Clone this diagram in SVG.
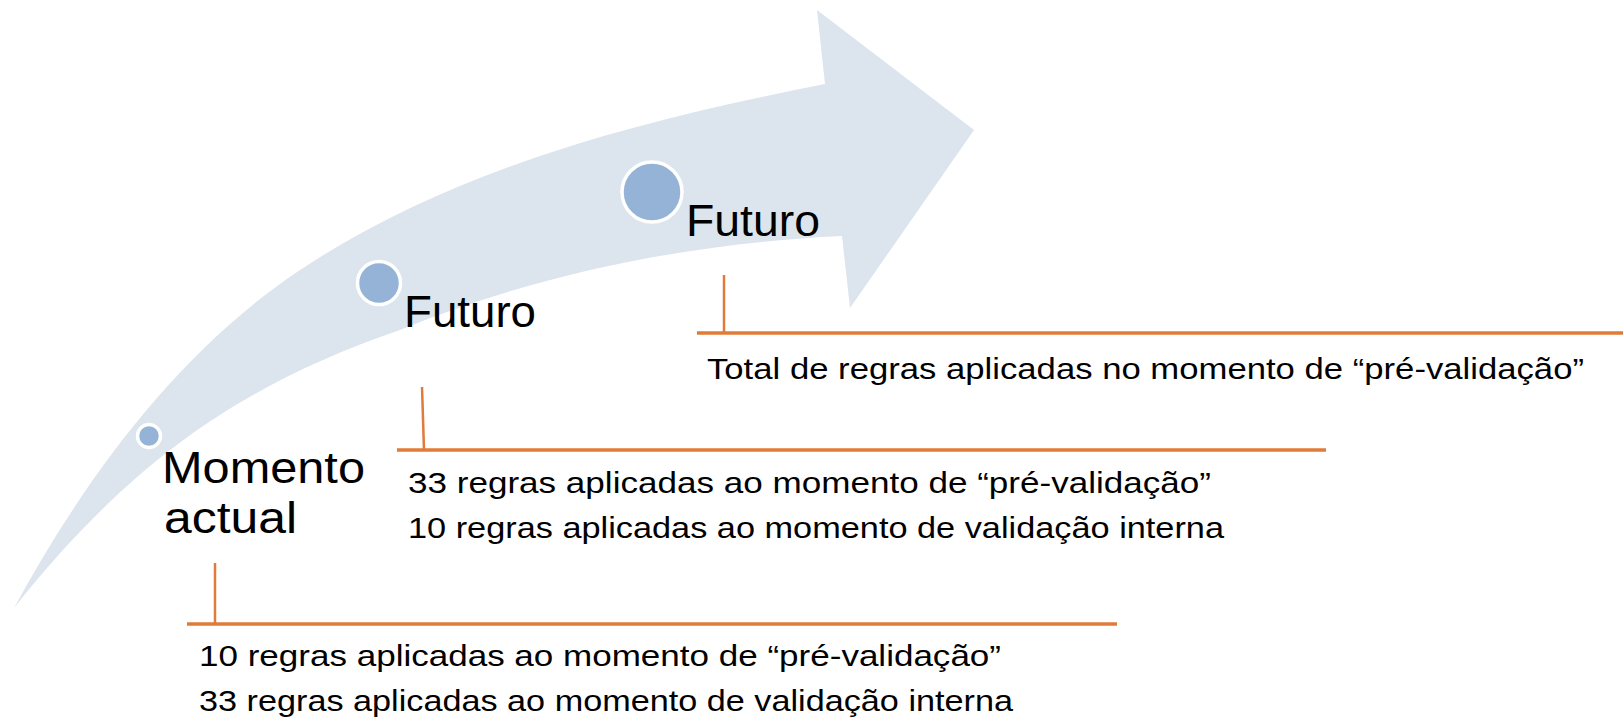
<svg xmlns="http://www.w3.org/2000/svg" width="1623" height="720" viewBox="0 0 1623 720">
<style>
.t{font-family:"Liberation Sans",Arial,sans-serif;fill:#000}
.title{font-size:45px}
.desc{font-size:29px}
.ln{stroke:#e07b39;fill:none}
.dot{fill:#95b3d7;stroke:#fff;stroke-width:3.5}
</style>
<rect width="1623" height="720" fill="#fff"/>
<g id="arrow">
<path d="M14,608 C85,478 177,352 300,270 C455,167 643,120 825,84 L817,10 L974,130 L850,308 L842,236 C692,243 539,273 400,330 C240,385 130,462 14,608 Z" fill="#dce4ee"/>
</g>
<g id="connectors">
<line class="ln" x1="697" y1="333" x2="1623" y2="333" stroke-width="3.5"/>
<line class="ln" x1="724" y1="275" x2="724" y2="333" stroke-width="2.5"/>
<line class="ln" x1="397" y1="450" x2="1326" y2="450" stroke-width="3.5"/>
<line class="ln" x1="422" y1="387" x2="424" y2="450" stroke-width="2.5"/>
<line class="ln" x1="187" y1="624" x2="1117" y2="624" stroke-width="3.5"/>
<line class="ln" x1="215" y1="563" x2="215" y2="624" stroke-width="2.5"/>
</g>
<g id="node-atual">
<circle class="dot" cx="149" cy="436" r="11.5"/>
<text class="t title" x="162" y="483" textLength="203" lengthAdjust="spacingAndGlyphs">Momento</text>
<text class="t title" x="164" y="533" textLength="133" lengthAdjust="spacingAndGlyphs">actual</text>
<text class="t desc" x="199" y="666" textLength="802" lengthAdjust="spacingAndGlyphs">10 regras aplicadas ao momento de “pré-validação”</text>
<text class="t desc" x="199" y="711" textLength="814" lengthAdjust="spacingAndGlyphs">33 regras aplicadas ao momento de validação interna</text>
</g>
<g id="node-futuro1">
<circle class="dot" cx="379" cy="283" r="21.5"/>
<text class="t title" x="404" y="327" textLength="132" lengthAdjust="spacingAndGlyphs">Futuro</text>
<text class="t desc" x="408" y="493" textLength="803" lengthAdjust="spacingAndGlyphs">33 regras aplicadas ao momento de “pré-validação”</text>
<text class="t desc" x="408" y="538" textLength="816" lengthAdjust="spacingAndGlyphs">10 regras aplicadas ao momento de validação interna</text>
</g>
<g id="node-futuro2">
<circle class="dot" cx="652" cy="192" r="30"/>
<text class="t title" x="686" y="236" textLength="134" lengthAdjust="spacingAndGlyphs">Futuro</text>
<text class="t desc" x="707" y="379" textLength="877" lengthAdjust="spacingAndGlyphs">Total de regras aplicadas no momento de “pré-validação”</text>
</g>
</svg>
